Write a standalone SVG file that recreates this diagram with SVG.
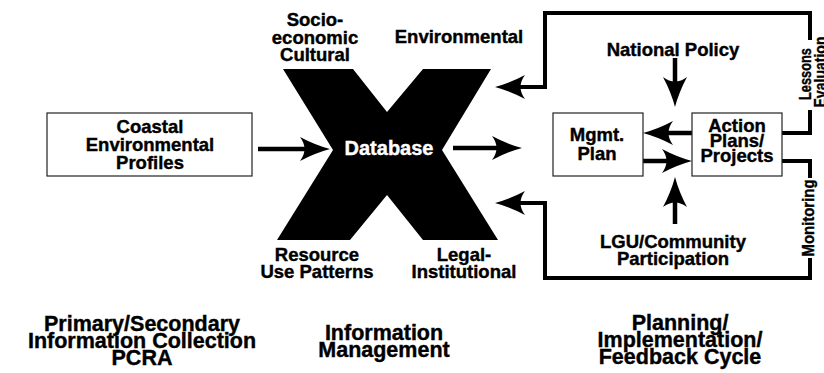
<svg xmlns="http://www.w3.org/2000/svg" width="824" height="373" viewBox="0 0 824 373">
<style>
text{font-family:"Liberation Sans",Arial,sans-serif;font-weight:bold;fill:#000;stroke:#000;stroke-width:0.4;text-anchor:middle}
.t{font-size:18.5px}
.b{font-size:21.5px}
.box{fill:#fff;stroke:#222;stroke-width:1.2}
.shaft{fill:none;stroke:#000;stroke-width:4.5;marker-end:url(#ah)}
.loop{fill:none;stroke:#000;stroke-width:4}
</style>
<defs>
<marker id="ah" viewBox="0 0 30 24" refX="10" refY="12" markerWidth="30" markerHeight="24" markerUnits="userSpaceOnUse" orient="auto">
<path d="M0,0 Q9,12 0,24 Q15,16 30,12 Q15,8 0,0 Z" fill="#000"/>
</marker>
</defs>
<rect width="824" height="373" fill="#fff"/>

<g id="connectors">
<path class="shaft" d="M258,149 H310"/>
<path class="shaft" d="M453,148 H502"/>
<path class="loop" d="M782,133 H810 V110"/>
<path class="shaft" style="stroke-width:4" d="M810,40 V13 H545 V87 H515"/>
<path class="loop" d="M782,161 H810 V178"/>
<path class="shaft" style="stroke-width:4" d="M810,258 V278 H545 V203 H515"/>
<path class="shaft" d="M692,133 H663"/>
<path class="shaft" d="M643,161 H672"/>
<path class="shaft" d="M675,58 V87"/>
<path class="shaft" d="M675,224 V197"/>
</g>

<g id="coastal">
<rect class="box" x="47" y="113" width="205" height="63"/>
<text class="t" x="150" y="133">Coastal</text>
<text class="t" x="150" y="151">Environmental</text>
<text class="t" x="150" y="169">Profiles</text>
</g>

<g id="database">
<path d="M283,69 L353,69 L387,112 L423,69 L491,69 L442,150 L498,240 L423,240 L387,195 L350,240 L277,240 L333,150 Z" fill="#000"/>
<text x="389" y="155" style="font-size:20px;fill:#fff;stroke:#fff">Database</text>
</g>

<g id="socio">
<text class="t" x="315" y="26">Socio-</text>
<text class="t" x="315" y="43.5">economic</text>
<text class="t" x="315" y="61">Cultural</text>
</g>
<g id="environmental">
<text class="t" x="459" y="43">Environmental</text>
</g>
<g id="resource">
<text class="t" x="317" y="261">Resource</text>
<text class="t" x="317" y="278">Use Patterns</text>
</g>
<g id="legal">
<text class="t" x="464" y="261">Legal-</text>
<text class="t" x="464" y="278">Institutional</text>
</g>

<g id="mgmt">
<rect class="box" x="553" y="113" width="90" height="63"/>
<text class="t" x="597" y="141">Mgmt.</text>
<text class="t" x="597" y="160">Plan</text>
</g>
<g id="action">
<rect class="box" x="692" y="113" width="90" height="63"/>
<text class="t" x="737" y="132">Action</text>
<text class="t" x="737" y="147">Plans/</text>
<text class="t" x="737" y="162">Projects</text>
</g>
<g id="national">
<text class="t" x="673" y="56">National Policy</text>
</g>
<g id="lgu">
<text class="t" x="673" y="248">LGU/Community</text>
<text class="t" x="673" y="265">Participation</text>
</g>
<g id="lessons">
<text transform="translate(811,74) rotate(-90)" style="font-size:17px" textLength="52" lengthAdjust="spacingAndGlyphs">Lessons</text>
<text transform="translate(826,72) rotate(-90)" style="font-size:17px" textLength="71" lengthAdjust="spacingAndGlyphs">Evaluation</text>
</g>
<g id="monitoring">
<text transform="translate(814,218) rotate(-90)" style="font-size:17px" textLength="77" lengthAdjust="spacingAndGlyphs">Monitoring</text>
</g>

<g id="col1">
<text class="b" x="142" y="331">Primary/Secondary</text>
<text class="b" x="142" y="348">Information Collection</text>
<text class="b" x="142" y="365">PCRA</text>
</g>
<g id="col2">
<text class="b" x="384" y="340">Information</text>
<text class="b" x="384" y="357">Management</text>
</g>
<g id="col3">
<text class="b" x="680" y="330">Planning/</text>
<text class="b" x="680" y="347">Implementation/</text>
<text class="b" x="680" y="364">Feedback Cycle</text>
</g>
</svg>
